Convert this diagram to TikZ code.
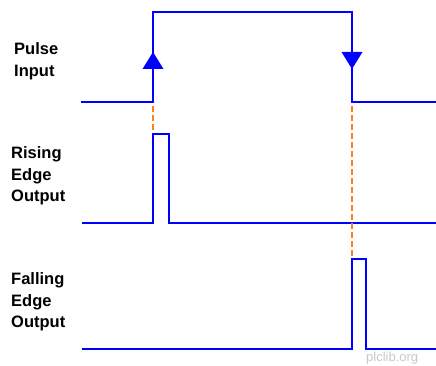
\documentclass[tikz,border=0pt]{standalone}
\usepackage{fontspec}
\setmainfont{Liberation Sans}
\begin{document}
\begin{tikzpicture}[x=1pt,y=-1pt,
  wave/.style={draw={rgb,255:red,0;green,0;blue,255},line width=2.8pt},
  guide/.style={draw={rgb,255:red,255;green,128;blue,32},line width=2.2pt,dash pattern=on 6pt off 3pt},
  marker/.style={fill={rgb,255:red,0;green,0;blue,255}},
  lbl/.style={anchor=west,align=left,font=\fontsize{16.5}{21.5}\selectfont\bfseries,inner sep=0pt},
  wm/.style={text={rgb,255:red,200;green,200;blue,200},font=\fontsize{13}{13}\selectfont,inner sep=0pt}]
\useasboundingbox (0,0) rectangle (436,366);
% pulse input
\draw[wave] (81,102) -- (153,102) -- (153,12) -- (352,12) -- (352,102) -- (436,102);
\fill[marker] (153,52) -- (163.5,69) -- (142.5,69) -- cycle;
\fill[marker] (352,69) -- (362.5,52) -- (341.5,52) -- cycle;
% rising edge output
\draw[wave] (82,223) -- (153,223) -- (153,134) -- (169,134) -- (169,223) -- (436,223);
% falling edge output
\draw[wave] (82,349) -- (352,349) -- (352,259) -- (366,259) -- (366,349) -- (436,349);
% guides
\coordinate (g1a) at (153,106); \coordinate (g1b) at (153,132);
\coordinate (g2a) at (352,106); \coordinate (g2b) at (352,257);
\draw[guide] (g1a) -- (g1b);
\draw[guide] (g2a) -- (g2b);
% labels
\node[lbl] (pin) at (14,61) {Pulse\\Input};
\node[lbl] (reo) at (11,176) {Rising\\Edge\\Output};
\node[lbl] (feo) at (11,302) {Falling\\Edge\\Output};
\node[wm,anchor=base west] (wmk) at (366,361.5) {plclib.org};
\end{tikzpicture}
\end{document}
